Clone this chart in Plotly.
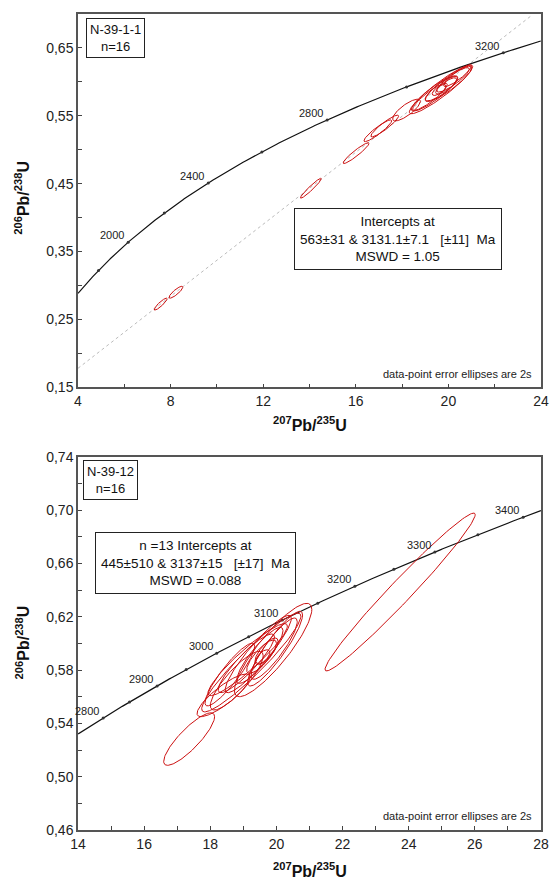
import numpy as np
import plotly.graph_objects as go

# ---------------- data ----------------
L235 = 9.8485e-10
L238 = 1.55125e-10

# Top panel (N-39-1-1): ellipses as (207/235 centre, 2s, 206/238 centre, 2s, rho)
top_x   = [7.57, 8.23, 14.06, 16.01, 16.95, 17.25, 18.19, 19.68, 20.0, 19.4, 19.7, 20.2, 19.9, 19.2, 19.6, 20.4]
top_sx  = [0.28, 0.30, 0.45, 0.56, 0.60, 0.60, 0.60, 1.37, 1.00, 1.00, 0.70, 0.70, 0.45, 0.75, 0.30, 0.60]
top_y   = [0.2726, 0.2901, 0.4433, 0.495, 0.528, 0.535, 0.5585, 0.589, 0.597, 0.583, 0.590, 0.603, 0.594, 0.578, 0.588, 0.609]
top_sy  = [0.0088, 0.0088, 0.0146, 0.0153, 0.016, 0.016, 0.016, 0.036, 0.026, 0.026, 0.018, 0.018, 0.012, 0.020, 0.008, 0.016]
top_rho = [0.90, 0.86, 0.96, 0.94, 0.92, 0.92, 0.80, 0.93, 0.90, 0.90, 0.85, 0.88, 0.80, 0.90, 0.70, 0.90]

top_disc_x = [4.0, 23.6]
top_disc_y = [0.178, 0.698]

top_age_ticks = [1800, 2000, 2200, 2400, 2600, 2800, 3000, 3200]
top_age_labels = [2000, 2400, 2800, 3200]
top_age_span = [1634, 3268]

# Bottom panel (N-39-12)
bot_x   = [19.24, 19.13, 19.09, 19.90, 19.96, 19.93, 19.59, 19.55, 19.50, 19.45, 18.59, 18.80, 19.70, 18.40, 17.36, 23.74]
bot_sx  = [1.50, 1.20, 0.85, 1.17, 0.83, 0.70, 0.21, 0.45, 0.70, 1.00, 0.75, 0.80, 0.35, 0.80, 0.77, 2.27]
bot_y   = [0.5856, 0.5878, 0.585, 0.595, 0.596, 0.596, 0.590, 0.590, 0.591, 0.592, 0.5766, 0.572, 0.594, 0.561, 0.5282, 0.6385]
bot_sy  = [0.037, 0.027, 0.022, 0.035, 0.028, 0.023, 0.0052, 0.0125, 0.021, 0.029, 0.0235, 0.022, 0.010, 0.016, 0.0197, 0.0592]
bot_rho = [0.94, 0.93, 0.90, 0.87, 0.90, 0.88, 0.60, 0.80, 0.88, 0.92, 0.90, 0.85, 0.75, 0.85, 0.85, 0.98]

bot_age_ticks = [2800, 2850, 2900, 2950, 3000, 3050, 3100, 3150, 3200, 3250, 3300, 3350, 3400]
bot_age_labels = [2800, 2900, 3000, 3100, 3200, 3300, 3400]
bot_age_span = [2750, 3419]

# ---------------- helpers ----------------
def conc(t_ma):
    t = np.asarray(t_ma, dtype=float) * 1e6
    return np.exp(L235 * t) - 1, np.exp(L238 * t) - 1

def ellipse(cx, sx, cy, sy, r, n=140):
    th = np.linspace(0, 2 * np.pi, n)
    return cx + sx * np.cos(th), cy + sy * (r * np.cos(th) + np.sqrt(1 - r * r) * np.sin(th))

RED = "#cc1010"
fig = go.Figure()

panels = [
    ("x", "y", top_x, top_sx, top_y, top_sy, top_rho, top_age_span, top_age_ticks, top_age_labels),
    ("x2", "y2", bot_x, bot_sx, bot_y, bot_sy, bot_rho, bot_age_span, bot_age_ticks, bot_age_labels),
]

annotations = []
for xa, ya, ex, esx, ey, esy, er, span, ticks, labels in panels:
    if xa == "x":
        fig.add_trace(go.Scatter(x=top_disc_x, y=top_disc_y, mode="lines", xaxis=xa, yaxis=ya,
                                 line=dict(color="#bbbbbb", width=1, dash="dot"), hoverinfo="skip"))
    tt = np.linspace(span[0], span[1], 300)
    cx, cy = conc(tt)
    fig.add_trace(go.Scatter(x=cx, y=cy, mode="lines", xaxis=xa, yaxis=ya,
                             line=dict(color="#111111", width=1.2), hoverinfo="skip"))
    tx, ty = conc(ticks)
    fig.add_trace(go.Scatter(x=tx, y=ty, mode="markers", xaxis=xa, yaxis=ya,
                             marker=dict(color="#333333", size=3), hoverinfo="skip"))
    for a, b, c, d, r in zip(ex, esx, ey, esy, er):
        px, py = ellipse(a, b, c, d, r)
        fig.add_trace(go.Scatter(x=px, y=py, mode="lines", xaxis=xa, yaxis=ya,
                                 line=dict(color=RED, width=1), hoverinfo="skip"))
    lx, ly = conc(labels)
    for lab, xx, yy in zip(labels, lx, ly):
        annotations.append(dict(x=xx, y=yy, xref=xa, yref=ya, text=str(lab), showarrow=False,
                                xanchor="right", yanchor="bottom", xshift=-2, yshift=-1,
                                font=dict(size=11, color="#222")))

FONT = "Liberation Sans, Arial, sans-serif"
box = dict(showarrow=False, bordercolor="#222", borderwidth=1, bgcolor="white",
           font=dict(size=13, color="#111"))

annotations += [
    dict(xref="x domain", yref="y domain", x=0.017, y=0.99, xanchor="left", yanchor="top",
         text="N-39-1-1<br>n=16", borderpad=3, **box),
    dict(xref="x2 domain", yref="y2 domain", x=0.01, y=0.99, xanchor="left", yanchor="top",
         text="N-39-12<br>n=16", borderpad=3, **box),
    dict(xref="x domain", yref="y domain", x=(401.5 - 78) / 468, y=(383 - 233.5) / 377,
         xanchor="center", yanchor="middle", borderpad=5, align="center",
         text="Intercepts at<br>563±31 & 3131.1±7.1   [±11]  Ma<br>MSWD = 1.05",
         showarrow=False, bordercolor="#222", borderwidth=1, bgcolor="white",
         font=dict(size=13.5, color="#111")),
    dict(xref="x2 domain", yref="y2 domain", x=(196.5 - 78) / 468, y=(830 - 560) / 377,
         xanchor="center", yanchor="middle", borderpad=5, align="center",
         text="n =13 Intercepts at<br>445±510 & 3137±15   [±17]  Ma<br>MSWD = 0.088",
         showarrow=False, bordercolor="#222", borderwidth=1, bgcolor="white",
         font=dict(size=13.5, color="#111")),
    dict(xref="x domain", yref="y domain", x=0.985, y=0.015, xanchor="right", yanchor="bottom",
         text="data-point error ellipses are 2s", showarrow=False, font=dict(size=11, color="#222")),
    dict(xref="x2 domain", yref="y2 domain", x=0.985, y=0.015, xanchor="right", yanchor="bottom",
         text="data-point error ellipses are 2s", showarrow=False, font=dict(size=11, color="#222")),
    # axis titles
    dict(xref="paper", yref="paper", x=0.5, y=(830 - 420) / 824, xanchor="center", yanchor="middle",
         text="<b><sup>207</sup>Pb/<sup>235</sup>U</b>", showarrow=False, font=dict(size=16, color="#111")),
    dict(xref="paper", yref="paper", x=0.5, y=(830 - 870) / 824, xanchor="center", yanchor="middle",
         text="<b><sup>207</sup>Pb/<sup>235</sup>U</b>", showarrow=False, font=dict(size=16, color="#111")),
    dict(xref="paper", yref="paper", x=(22 - 78) / 468, y=(830 - 192) / 824, xanchor="center", yanchor="middle",
         textangle=-90, text="<b><sup>206</sup>Pb/<sup>238</sup>U</b>", showarrow=False,
         font=dict(size=16, color="#111")),
    dict(xref="paper", yref="paper", x=(22 - 78) / 468, y=(830 - 641) / 824, xanchor="center", yanchor="middle",
         textangle=-90, text="<b><sup>206</sup>Pb/<sup>238</sup>U</b>", showarrow=False,
         font=dict(size=16, color="#111")),
]

ax_common = dict(showgrid=False, zeroline=False, showline=True, mirror=True, linecolor="#555",
                 linewidth=1.5, ticks="inside", ticklen=4, tickcolor="#444", tickwidth=1,
                 tickfont=dict(size=14, color="#222"))

fig.update_layout(
    width=555, height=881, margin=dict(l=78, r=9, t=6, b=51),
    paper_bgcolor="white", plot_bgcolor="white", showlegend=False,
    separators=", ", font=dict(family=FONT),
    xaxis=dict(domain=[0, 1], range=[4, 24], anchor="y", tick0=4, dtick=4,
               minor=dict(ticks="inside", dtick=2, ticklen=4, tickcolor="#444"), **ax_common),
    yaxis=dict(domain=[0.5425, 1], range=[0.15, 0.70], anchor="x", tick0=0.15, dtick=0.1, tickformat=".2f",
               minor=dict(ticks="inside", dtick=0.05, ticklen=4, tickcolor="#444"), **ax_common),
    xaxis2=dict(domain=[0, 1], range=[14, 28], anchor="y2", tick0=14, dtick=2,
                minor=dict(ticks="inside", dtick=1, ticklen=4, tickcolor="#444"), **ax_common),
    yaxis2=dict(domain=[0, 0.4575], range=[0.46, 0.74], anchor="x2", tick0=0.46, dtick=0.04, tickformat=".2f",
                minor=dict(ticks="inside", dtick=0.02, ticklen=4, tickcolor="#444"), **ax_common),
    annotations=annotations,
)

fig.write_html("out.html")
